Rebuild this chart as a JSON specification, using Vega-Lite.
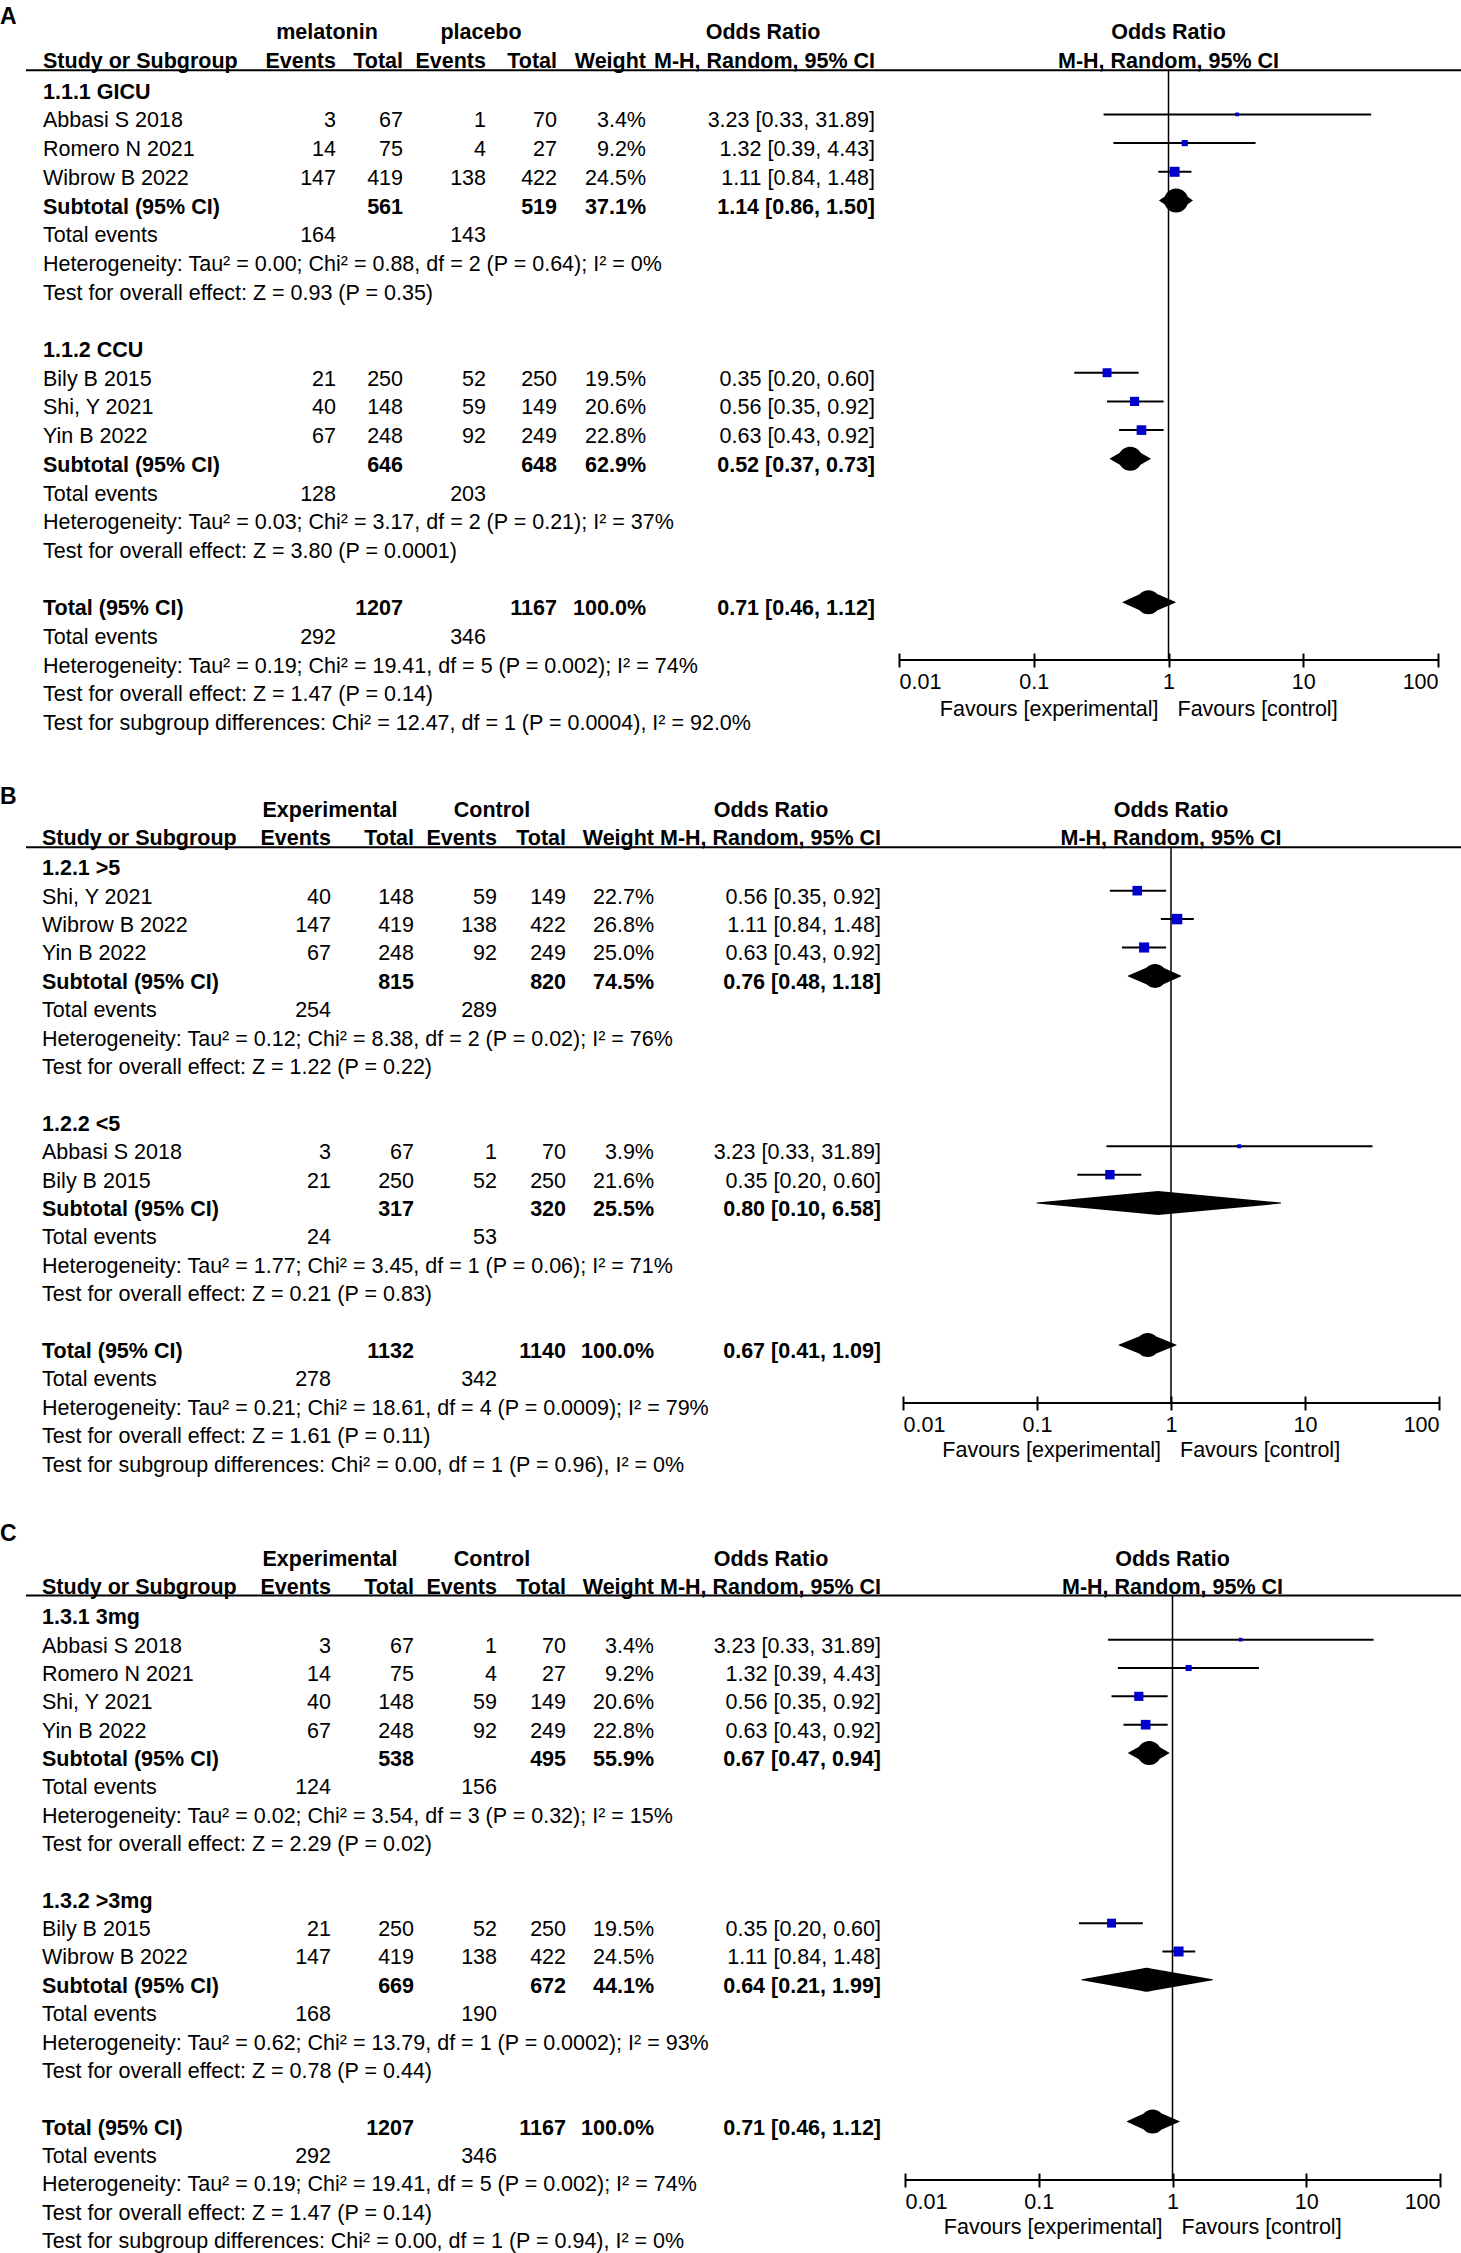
{
  "$schema": "https://vega.github.io/schema/vega-lite/v6.json",
  "background": "white",
  "padding": 0,
  "autosize": {"type": "pad"},
  "config": {"view": {"stroke": null}, "text": {"font": "Liberation Sans", "color": "black"}, "axis": {"labelFont": "Liberation Sans"}},
  "spacing": 100,
  "bounds": "flush",
  "datasets": {
    "txt": [
      {"p":"A","r":-2.65,"c":0,"t":"A","k":"L"},
      {"p":"A","r":-2.07,"c":2,"t":"melatonin","k":"h"},
      {"p":"A","r":-2.07,"c":5,"t":"placebo","k":"h"},
      {"p":"A","r":-2.07,"c":9,"t":"Odds Ratio","k":"h"},
      {"p":"A","r":-1.07,"c":1,"t":"Study or Subgroup","k":"h"},
      {"p":"A","r":-1.07,"c":3,"t":"Events","k":"h"},
      {"p":"A","r":-1.07,"c":4,"t":"Total","k":"h"},
      {"p":"A","r":-1.07,"c":6,"t":"Events","k":"h"},
      {"p":"A","r":-1.07,"c":7,"t":"Total","k":"h"},
      {"p":"A","r":-1.07,"c":8,"t":"Weight","k":"h"},
      {"p":"A","r":-1.07,"c":10,"t":"M-H, Random, 95% CI","k":"h"},
      {"p":"A","r":-2.07,"t":"Odds Ratio","k":"fh"},
      {"p":"A","r":-1.07,"t":"M-H, Random, 95% CI","k":"fh"},
      {"p":"A","r":21.5,"t":"Favours [experimental]","k":"fe"},
      {"p":"A","r":21.5,"t":"Favours [control]","k":"fc"},
      {"p":"A","r":0,"c":1,"t":"1.1.1 GICU","k":"g"},
      {"p":"A","r":1,"c":1,"t":"Abbasi S 2018","k":"s"},{"p":"A","r":1,"c":3,"t":"3","k":"s"},{"p":"A","r":1,"c":4,"t":"67","k":"s"},{"p":"A","r":1,"c":6,"t":"1","k":"s"},{"p":"A","r":1,"c":7,"t":"70","k":"s"},{"p":"A","r":1,"c":8,"t":"3.4%","k":"s"},{"p":"A","r":1,"c":10,"t":"3.23 [0.33, 31.89]","k":"s"},
      {"p":"A","r":2,"c":1,"t":"Romero N 2021","k":"s"},{"p":"A","r":2,"c":3,"t":"14","k":"s"},{"p":"A","r":2,"c":4,"t":"75","k":"s"},{"p":"A","r":2,"c":6,"t":"4","k":"s"},{"p":"A","r":2,"c":7,"t":"27","k":"s"},{"p":"A","r":2,"c":8,"t":"9.2%","k":"s"},{"p":"A","r":2,"c":10,"t":"1.32 [0.39, 4.43]","k":"s"},
      {"p":"A","r":3,"c":1,"t":"Wibrow B 2022","k":"s"},{"p":"A","r":3,"c":3,"t":"147","k":"s"},{"p":"A","r":3,"c":4,"t":"419","k":"s"},{"p":"A","r":3,"c":6,"t":"138","k":"s"},{"p":"A","r":3,"c":7,"t":"422","k":"s"},{"p":"A","r":3,"c":8,"t":"24.5%","k":"s"},{"p":"A","r":3,"c":10,"t":"1.11 [0.84, 1.48]","k":"s"},
      {"p":"A","r":4,"c":1,"t":"Subtotal (95% CI)","k":"sub"},{"p":"A","r":4,"c":4,"t":"561","k":"sub"},{"p":"A","r":4,"c":7,"t":"519","k":"sub"},{"p":"A","r":4,"c":8,"t":"37.1%","k":"sub"},{"p":"A","r":4,"c":10,"t":"1.14 [0.86, 1.50]","k":"sub"},
      {"p":"A","r":5,"c":1,"t":"Total events","k":"i"},{"p":"A","r":5,"c":3,"t":"164","k":"i"},{"p":"A","r":5,"c":6,"t":"143","k":"i"},
      {"p":"A","r":6,"c":1,"t":"Heterogeneity: Tau² = 0.00; Chi² = 0.88, df = 2 (P = 0.64); I² = 0%","k":"i"},
      {"p":"A","r":7,"c":1,"t":"Test for overall effect: Z = 0.93 (P = 0.35)","k":"i"},
      {"p":"A","r":9,"c":1,"t":"1.1.2 CCU","k":"g"},
      {"p":"A","r":10,"c":1,"t":"Bily B 2015","k":"s"},{"p":"A","r":10,"c":3,"t":"21","k":"s"},{"p":"A","r":10,"c":4,"t":"250","k":"s"},{"p":"A","r":10,"c":6,"t":"52","k":"s"},{"p":"A","r":10,"c":7,"t":"250","k":"s"},{"p":"A","r":10,"c":8,"t":"19.5%","k":"s"},{"p":"A","r":10,"c":10,"t":"0.35 [0.20, 0.60]","k":"s"},
      {"p":"A","r":11,"c":1,"t":"Shi, Y 2021","k":"s"},{"p":"A","r":11,"c":3,"t":"40","k":"s"},{"p":"A","r":11,"c":4,"t":"148","k":"s"},{"p":"A","r":11,"c":6,"t":"59","k":"s"},{"p":"A","r":11,"c":7,"t":"149","k":"s"},{"p":"A","r":11,"c":8,"t":"20.6%","k":"s"},{"p":"A","r":11,"c":10,"t":"0.56 [0.35, 0.92]","k":"s"},
      {"p":"A","r":12,"c":1,"t":"Yin B 2022","k":"s"},{"p":"A","r":12,"c":3,"t":"67","k":"s"},{"p":"A","r":12,"c":4,"t":"248","k":"s"},{"p":"A","r":12,"c":6,"t":"92","k":"s"},{"p":"A","r":12,"c":7,"t":"249","k":"s"},{"p":"A","r":12,"c":8,"t":"22.8%","k":"s"},{"p":"A","r":12,"c":10,"t":"0.63 [0.43, 0.92]","k":"s"},
      {"p":"A","r":13,"c":1,"t":"Subtotal (95% CI)","k":"sub"},{"p":"A","r":13,"c":4,"t":"646","k":"sub"},{"p":"A","r":13,"c":7,"t":"648","k":"sub"},{"p":"A","r":13,"c":8,"t":"62.9%","k":"sub"},{"p":"A","r":13,"c":10,"t":"0.52 [0.37, 0.73]","k":"sub"},
      {"p":"A","r":14,"c":1,"t":"Total events","k":"i"},{"p":"A","r":14,"c":3,"t":"128","k":"i"},{"p":"A","r":14,"c":6,"t":"203","k":"i"},
      {"p":"A","r":15,"c":1,"t":"Heterogeneity: Tau² = 0.03; Chi² = 3.17, df = 2 (P = 0.21); I² = 37%","k":"i"},
      {"p":"A","r":16,"c":1,"t":"Test for overall effect: Z = 3.80 (P = 0.0001)","k":"i"},
      {"p":"A","r":18,"c":1,"t":"Total (95% CI)","k":"sub"},{"p":"A","r":18,"c":4,"t":"1207","k":"sub"},{"p":"A","r":18,"c":7,"t":"1167","k":"sub"},{"p":"A","r":18,"c":8,"t":"100.0%","k":"sub"},{"p":"A","r":18,"c":10,"t":"0.71 [0.46, 1.12]","k":"sub"},
      {"p":"A","r":19,"c":1,"t":"Total events","k":"i"},{"p":"A","r":19,"c":3,"t":"292","k":"i"},{"p":"A","r":19,"c":6,"t":"346","k":"i"},
      {"p":"A","r":20,"c":1,"t":"Heterogeneity: Tau² = 0.19; Chi² = 19.41, df = 5 (P = 0.002); I² = 74%","k":"i"},
      {"p":"A","r":21,"c":1,"t":"Test for overall effect: Z = 1.47 (P = 0.14)","k":"i"},
      {"p":"A","r":22,"c":1,"t":"Test for subgroup differences: Chi² = 12.47, df = 1 (P = 0.0004), I² = 92.0%","k":"i"},

      {"p":"B","r":-2.56,"c":0,"t":"B","k":"L"},
      {"p":"B","r":-2.07,"c":2,"t":"Experimental","k":"h"},
      {"p":"B","r":-2.07,"c":5,"t":"Control","k":"h"},
      {"p":"B","r":-2.07,"c":9,"t":"Odds Ratio","k":"h"},
      {"p":"B","r":-1.07,"c":1,"t":"Study or Subgroup","k":"h"},
      {"p":"B","r":-1.07,"c":3,"t":"Events","k":"h"},
      {"p":"B","r":-1.07,"c":4,"t":"Total","k":"h"},
      {"p":"B","r":-1.07,"c":6,"t":"Events","k":"h"},
      {"p":"B","r":-1.07,"c":7,"t":"Total","k":"h"},
      {"p":"B","r":-1.07,"c":8,"t":"Weight","k":"h"},
      {"p":"B","r":-1.07,"c":10,"t":"M-H, Random, 95% CI","k":"h"},
      {"p":"B","r":-2.07,"t":"Odds Ratio","k":"fh"},
      {"p":"B","r":-1.07,"t":"M-H, Random, 95% CI","k":"fh"},
      {"p":"B","r":20.5,"t":"Favours [experimental]","k":"fe"},
      {"p":"B","r":20.5,"t":"Favours [control]","k":"fc"},
      {"p":"B","r":0,"c":1,"t":"1.2.1 >5","k":"g"},
      {"p":"B","r":1,"c":1,"t":"Shi, Y 2021","k":"s"},{"p":"B","r":1,"c":3,"t":"40","k":"s"},{"p":"B","r":1,"c":4,"t":"148","k":"s"},{"p":"B","r":1,"c":6,"t":"59","k":"s"},{"p":"B","r":1,"c":7,"t":"149","k":"s"},{"p":"B","r":1,"c":8,"t":"22.7%","k":"s"},{"p":"B","r":1,"c":10,"t":"0.56 [0.35, 0.92]","k":"s"},
      {"p":"B","r":2,"c":1,"t":"Wibrow B 2022","k":"s"},{"p":"B","r":2,"c":3,"t":"147","k":"s"},{"p":"B","r":2,"c":4,"t":"419","k":"s"},{"p":"B","r":2,"c":6,"t":"138","k":"s"},{"p":"B","r":2,"c":7,"t":"422","k":"s"},{"p":"B","r":2,"c":8,"t":"26.8%","k":"s"},{"p":"B","r":2,"c":10,"t":"1.11 [0.84, 1.48]","k":"s"},
      {"p":"B","r":3,"c":1,"t":"Yin B 2022","k":"s"},{"p":"B","r":3,"c":3,"t":"67","k":"s"},{"p":"B","r":3,"c":4,"t":"248","k":"s"},{"p":"B","r":3,"c":6,"t":"92","k":"s"},{"p":"B","r":3,"c":7,"t":"249","k":"s"},{"p":"B","r":3,"c":8,"t":"25.0%","k":"s"},{"p":"B","r":3,"c":10,"t":"0.63 [0.43, 0.92]","k":"s"},
      {"p":"B","r":4,"c":1,"t":"Subtotal (95% CI)","k":"sub"},{"p":"B","r":4,"c":4,"t":"815","k":"sub"},{"p":"B","r":4,"c":7,"t":"820","k":"sub"},{"p":"B","r":4,"c":8,"t":"74.5%","k":"sub"},{"p":"B","r":4,"c":10,"t":"0.76 [0.48, 1.18]","k":"sub"},
      {"p":"B","r":5,"c":1,"t":"Total events","k":"i"},{"p":"B","r":5,"c":3,"t":"254","k":"i"},{"p":"B","r":5,"c":6,"t":"289","k":"i"},
      {"p":"B","r":6,"c":1,"t":"Heterogeneity: Tau² = 0.12; Chi² = 8.38, df = 2 (P = 0.02); I² = 76%","k":"i"},
      {"p":"B","r":7,"c":1,"t":"Test for overall effect: Z = 1.22 (P = 0.22)","k":"i"},
      {"p":"B","r":9,"c":1,"t":"1.2.2 <5","k":"g"},
      {"p":"B","r":10,"c":1,"t":"Abbasi S 2018","k":"s"},{"p":"B","r":10,"c":3,"t":"3","k":"s"},{"p":"B","r":10,"c":4,"t":"67","k":"s"},{"p":"B","r":10,"c":6,"t":"1","k":"s"},{"p":"B","r":10,"c":7,"t":"70","k":"s"},{"p":"B","r":10,"c":8,"t":"3.9%","k":"s"},{"p":"B","r":10,"c":10,"t":"3.23 [0.33, 31.89]","k":"s"},
      {"p":"B","r":11,"c":1,"t":"Bily B 2015","k":"s"},{"p":"B","r":11,"c":3,"t":"21","k":"s"},{"p":"B","r":11,"c":4,"t":"250","k":"s"},{"p":"B","r":11,"c":6,"t":"52","k":"s"},{"p":"B","r":11,"c":7,"t":"250","k":"s"},{"p":"B","r":11,"c":8,"t":"21.6%","k":"s"},{"p":"B","r":11,"c":10,"t":"0.35 [0.20, 0.60]","k":"s"},
      {"p":"B","r":12,"c":1,"t":"Subtotal (95% CI)","k":"sub"},{"p":"B","r":12,"c":4,"t":"317","k":"sub"},{"p":"B","r":12,"c":7,"t":"320","k":"sub"},{"p":"B","r":12,"c":8,"t":"25.5%","k":"sub"},{"p":"B","r":12,"c":10,"t":"0.80 [0.10, 6.58]","k":"sub"},
      {"p":"B","r":13,"c":1,"t":"Total events","k":"i"},{"p":"B","r":13,"c":3,"t":"24","k":"i"},{"p":"B","r":13,"c":6,"t":"53","k":"i"},
      {"p":"B","r":14,"c":1,"t":"Heterogeneity: Tau² = 1.77; Chi² = 3.45, df = 1 (P = 0.06); I² = 71%","k":"i"},
      {"p":"B","r":15,"c":1,"t":"Test for overall effect: Z = 0.21 (P = 0.83)","k":"i"},
      {"p":"B","r":17,"c":1,"t":"Total (95% CI)","k":"sub"},{"p":"B","r":17,"c":4,"t":"1132","k":"sub"},{"p":"B","r":17,"c":7,"t":"1140","k":"sub"},{"p":"B","r":17,"c":8,"t":"100.0%","k":"sub"},{"p":"B","r":17,"c":10,"t":"0.67 [0.41, 1.09]","k":"sub"},
      {"p":"B","r":18,"c":1,"t":"Total events","k":"i"},{"p":"B","r":18,"c":3,"t":"278","k":"i"},{"p":"B","r":18,"c":6,"t":"342","k":"i"},
      {"p":"B","r":19,"c":1,"t":"Heterogeneity: Tau² = 0.21; Chi² = 18.61, df = 4 (P = 0.0009); I² = 79%","k":"i"},
      {"p":"B","r":20,"c":1,"t":"Test for overall effect: Z = 1.61 (P = 0.11)","k":"i"},
      {"p":"B","r":21,"c":1,"t":"Test for subgroup differences: Chi² = 0.00, df = 1 (P = 0.96), I² = 0%","k":"i"},

      {"p":"C","r":-2.99,"c":0,"t":"C","k":"L"},
      {"p":"C","r":-2.07,"c":2,"t":"Experimental","k":"h"},
      {"p":"C","r":-2.07,"c":5,"t":"Control","k":"h"},
      {"p":"C","r":-2.07,"c":9,"t":"Odds Ratio","k":"h"},
      {"p":"C","r":-1.07,"c":1,"t":"Study or Subgroup","k":"h"},
      {"p":"C","r":-1.07,"c":3,"t":"Events","k":"h"},
      {"p":"C","r":-1.07,"c":4,"t":"Total","k":"h"},
      {"p":"C","r":-1.07,"c":6,"t":"Events","k":"h"},
      {"p":"C","r":-1.07,"c":7,"t":"Total","k":"h"},
      {"p":"C","r":-1.07,"c":8,"t":"Weight","k":"h"},
      {"p":"C","r":-1.07,"c":10,"t":"M-H, Random, 95% CI","k":"h"},
      {"p":"C","r":-2.07,"t":"Odds Ratio","k":"fh"},
      {"p":"C","r":-1.07,"t":"M-H, Random, 95% CI","k":"fh"},
      {"p":"C","r":21.5,"t":"Favours [experimental]","k":"fe"},
      {"p":"C","r":21.5,"t":"Favours [control]","k":"fc"},
      {"p":"C","r":0,"c":1,"t":"1.3.1 3mg","k":"g"},
      {"p":"C","r":1,"c":1,"t":"Abbasi S 2018","k":"s"},{"p":"C","r":1,"c":3,"t":"3","k":"s"},{"p":"C","r":1,"c":4,"t":"67","k":"s"},{"p":"C","r":1,"c":6,"t":"1","k":"s"},{"p":"C","r":1,"c":7,"t":"70","k":"s"},{"p":"C","r":1,"c":8,"t":"3.4%","k":"s"},{"p":"C","r":1,"c":10,"t":"3.23 [0.33, 31.89]","k":"s"},
      {"p":"C","r":2,"c":1,"t":"Romero N 2021","k":"s"},{"p":"C","r":2,"c":3,"t":"14","k":"s"},{"p":"C","r":2,"c":4,"t":"75","k":"s"},{"p":"C","r":2,"c":6,"t":"4","k":"s"},{"p":"C","r":2,"c":7,"t":"27","k":"s"},{"p":"C","r":2,"c":8,"t":"9.2%","k":"s"},{"p":"C","r":2,"c":10,"t":"1.32 [0.39, 4.43]","k":"s"},
      {"p":"C","r":3,"c":1,"t":"Shi, Y 2021","k":"s"},{"p":"C","r":3,"c":3,"t":"40","k":"s"},{"p":"C","r":3,"c":4,"t":"148","k":"s"},{"p":"C","r":3,"c":6,"t":"59","k":"s"},{"p":"C","r":3,"c":7,"t":"149","k":"s"},{"p":"C","r":3,"c":8,"t":"20.6%","k":"s"},{"p":"C","r":3,"c":10,"t":"0.56 [0.35, 0.92]","k":"s"},
      {"p":"C","r":4,"c":1,"t":"Yin B 2022","k":"s"},{"p":"C","r":4,"c":3,"t":"67","k":"s"},{"p":"C","r":4,"c":4,"t":"248","k":"s"},{"p":"C","r":4,"c":6,"t":"92","k":"s"},{"p":"C","r":4,"c":7,"t":"249","k":"s"},{"p":"C","r":4,"c":8,"t":"22.8%","k":"s"},{"p":"C","r":4,"c":10,"t":"0.63 [0.43, 0.92]","k":"s"},
      {"p":"C","r":5,"c":1,"t":"Subtotal (95% CI)","k":"sub"},{"p":"C","r":5,"c":4,"t":"538","k":"sub"},{"p":"C","r":5,"c":7,"t":"495","k":"sub"},{"p":"C","r":5,"c":8,"t":"55.9%","k":"sub"},{"p":"C","r":5,"c":10,"t":"0.67 [0.47, 0.94]","k":"sub"},
      {"p":"C","r":6,"c":1,"t":"Total events","k":"i"},{"p":"C","r":6,"c":3,"t":"124","k":"i"},{"p":"C","r":6,"c":6,"t":"156","k":"i"},
      {"p":"C","r":7,"c":1,"t":"Heterogeneity: Tau² = 0.02; Chi² = 3.54, df = 3 (P = 0.32); I² = 15%","k":"i"},
      {"p":"C","r":8,"c":1,"t":"Test for overall effect: Z = 2.29 (P = 0.02)","k":"i"},
      {"p":"C","r":10,"c":1,"t":"1.3.2 >3mg","k":"g"},
      {"p":"C","r":11,"c":1,"t":"Bily B 2015","k":"s"},{"p":"C","r":11,"c":3,"t":"21","k":"s"},{"p":"C","r":11,"c":4,"t":"250","k":"s"},{"p":"C","r":11,"c":6,"t":"52","k":"s"},{"p":"C","r":11,"c":7,"t":"250","k":"s"},{"p":"C","r":11,"c":8,"t":"19.5%","k":"s"},{"p":"C","r":11,"c":10,"t":"0.35 [0.20, 0.60]","k":"s"},
      {"p":"C","r":12,"c":1,"t":"Wibrow B 2022","k":"s"},{"p":"C","r":12,"c":3,"t":"147","k":"s"},{"p":"C","r":12,"c":4,"t":"419","k":"s"},{"p":"C","r":12,"c":6,"t":"138","k":"s"},{"p":"C","r":12,"c":7,"t":"422","k":"s"},{"p":"C","r":12,"c":8,"t":"24.5%","k":"s"},{"p":"C","r":12,"c":10,"t":"1.11 [0.84, 1.48]","k":"s"},
      {"p":"C","r":13,"c":1,"t":"Subtotal (95% CI)","k":"sub"},{"p":"C","r":13,"c":4,"t":"669","k":"sub"},{"p":"C","r":13,"c":7,"t":"672","k":"sub"},{"p":"C","r":13,"c":8,"t":"44.1%","k":"sub"},{"p":"C","r":13,"c":10,"t":"0.64 [0.21, 1.99]","k":"sub"},
      {"p":"C","r":14,"c":1,"t":"Total events","k":"i"},{"p":"C","r":14,"c":3,"t":"168","k":"i"},{"p":"C","r":14,"c":6,"t":"190","k":"i"},
      {"p":"C","r":15,"c":1,"t":"Heterogeneity: Tau² = 0.62; Chi² = 13.79, df = 1 (P = 0.0002); I² = 93%","k":"i"},
      {"p":"C","r":16,"c":1,"t":"Test for overall effect: Z = 0.78 (P = 0.44)","k":"i"},
      {"p":"C","r":18,"c":1,"t":"Total (95% CI)","k":"sub"},{"p":"C","r":18,"c":4,"t":"1207","k":"sub"},{"p":"C","r":18,"c":7,"t":"1167","k":"sub"},{"p":"C","r":18,"c":8,"t":"100.0%","k":"sub"},{"p":"C","r":18,"c":10,"t":"0.71 [0.46, 1.12]","k":"sub"},
      {"p":"C","r":19,"c":1,"t":"Total events","k":"i"},{"p":"C","r":19,"c":3,"t":"292","k":"i"},{"p":"C","r":19,"c":6,"t":"346","k":"i"},
      {"p":"C","r":20,"c":1,"t":"Heterogeneity: Tau² = 0.19; Chi² = 19.41, df = 5 (P = 0.002); I² = 74%","k":"i"},
      {"p":"C","r":21,"c":1,"t":"Test for overall effect: Z = 1.47 (P = 0.14)","k":"i"},
      {"p":"C","r":22,"c":1,"t":"Test for subgroup differences: Chi² = 0.00, df = 1 (P = 0.94), I² = 0%","k":"i"}
    ],
    "est": [
      {"p":"A","r":1,"or":3.23,"lo":0.33,"hi":31.89,"w":3.4},
      {"p":"A","r":2,"or":1.32,"lo":0.39,"hi":4.43,"w":9.2},
      {"p":"A","r":3,"or":1.11,"lo":0.84,"hi":1.48,"w":24.5},
      {"p":"A","r":10,"or":0.35,"lo":0.20,"hi":0.60,"w":19.5},
      {"p":"A","r":11,"or":0.56,"lo":0.35,"hi":0.92,"w":20.6},
      {"p":"A","r":12,"or":0.63,"lo":0.43,"hi":0.92,"w":22.8},
      {"p":"B","r":1,"or":0.56,"lo":0.35,"hi":0.92,"w":22.7},
      {"p":"B","r":2,"or":1.11,"lo":0.84,"hi":1.48,"w":26.8},
      {"p":"B","r":3,"or":0.63,"lo":0.43,"hi":0.92,"w":25.0},
      {"p":"B","r":10,"or":3.23,"lo":0.33,"hi":31.89,"w":3.9},
      {"p":"B","r":11,"or":0.35,"lo":0.20,"hi":0.60,"w":21.6},
      {"p":"C","r":1,"or":3.23,"lo":0.33,"hi":31.89,"w":3.4},
      {"p":"C","r":2,"or":1.32,"lo":0.39,"hi":4.43,"w":9.2},
      {"p":"C","r":3,"or":0.56,"lo":0.35,"hi":0.92,"w":20.6},
      {"p":"C","r":4,"or":0.63,"lo":0.43,"hi":0.92,"w":22.8},
      {"p":"C","r":11,"or":0.35,"lo":0.20,"hi":0.60,"w":19.5},
      {"p":"C","r":12,"or":1.11,"lo":0.84,"hi":1.48,"w":24.5}
    ],
    "pooled": [
      {"p":"A","r":4,"or":1.14,"lo":0.86,"hi":1.50},
      {"p":"A","r":13,"or":0.52,"lo":0.37,"hi":0.73},
      {"p":"A","r":18,"or":0.71,"lo":0.46,"hi":1.12},
      {"p":"B","r":4,"or":0.76,"lo":0.48,"hi":1.18},
      {"p":"B","r":12,"or":0.80,"lo":0.10,"hi":6.58},
      {"p":"B","r":17,"or":0.67,"lo":0.41,"hi":1.09},
      {"p":"C","r":5,"or":0.67,"lo":0.47,"hi":0.94},
      {"p":"C","r":13,"or":0.64,"lo":0.21,"hi":1.99},
      {"p":"C","r":18,"or":0.71,"lo":0.46,"hi":1.12}
    ]
  },
  "vconcat": [
    {
      "width": 1435, "height": 660,
      "resolve": {"scale": {"x": "independent"}},
      "encoding": {"y": {"field": "r", "type": "quantitative", "scale": {"domain": [-2.986, 20.01], "reverse": true, "nice": false, "zero": false}, "axis": null}},
      "layer": [
        {"data": {"name": "txt"}, "transform": [{"filter": "datum.p == 'A' && datum.k == 'L'"}],
         "mark": {"type": "rule", "color": "black", "strokeWidth": 2},
         "encoding": {"y": {"datum": -0.54, "type": "quantitative", "axis": null}}},
        {
          "data": {"name": "txt"},
          "transform": [{"filter": "datum.p == 'A' && isValid(datum.c)"}],
          "encoding": {
            "x": {"field": "c", "type": "quantitative", "scale": {"domain": [0,1,2,3,4,5,6,7,8,9,10], "range": [-26,17,301,310,377,455,460,531,620,737,849], "nice": false, "zero": false}, "axis": null},
            "text": {"field": "t", "type": "nominal"}
          },
          "layer": [
            {"transform": [{"filter": "datum.c == 1 && (datum.k == 's' || datum.k == 'i')"}], "mark": {"type": "text", "align": "left", "baseline": "middle", "dy": 7, "fontSize": 21.5}},
            {"transform": [{"filter": "datum.c == 1 && (datum.k == 'h' || datum.k == 'g' || datum.k == 'sub')"}], "mark": {"type": "text", "align": "left", "baseline": "middle", "dy": 7, "fontSize": 21.5, "fontWeight": "bold"}},
            {"transform": [{"filter": "(datum.c == 3 || datum.c == 4 || datum.c == 6 || datum.c == 7 || datum.c == 8 || datum.c == 10) && (datum.k == 's' || datum.k == 'i')"}], "mark": {"type": "text", "align": "right", "baseline": "middle", "dy": 7, "fontSize": 21.5}},
            {"transform": [{"filter": "(datum.c == 3 || datum.c == 4 || datum.c == 6 || datum.c == 7 || datum.c == 8 || datum.c == 10) && (datum.k == 'h' || datum.k == 'g' || datum.k == 'sub')"}], "mark": {"type": "text", "align": "right", "baseline": "middle", "dy": 7, "fontSize": 21.5, "fontWeight": "bold"}},
            {"transform": [{"filter": "datum.c == 2 || datum.c == 5 || datum.c == 9"}], "mark": {"type": "text", "align": "center", "baseline": "middle", "dy": 7, "fontSize": 21.5, "fontWeight": "bold"}},
            {"transform": [{"filter": "datum.c == 0"}], "mark": {"type": "text", "align": "left", "baseline": "middle", "dy": 7, "fontSize": 23, "fontWeight": "bold"}}
          ]
        },
        {
          "layer": [
            {"data": {"name": "txt"}, "transform": [{"filter": "datum.p == 'A' && datum.k == 'L'"}],
             "mark": {"type": "rule", "color": "black", "strokeWidth": 1.5},
             "encoding": {"x": {"datum": 1, "type": "quantitative", "scale": {"type": "log", "domain": [0.01, 100], "range": [873, 1412], "nice": false}, "axis": {"orient": "bottom", "values": [0.01, 0.1, 1, 10, 100], "format": "~g", "title": null, "grid": false, "domain": false, "tickSize": 14, "tickWidth": 2, "tickColor": "black", "offset": -7, "labelPadding": 4, "labelFont": "Liberation Sans", "labelFontSize": 21.5, "labelColor": "black", "labelFlush": true, "labelOverlap": false}},
                          "y": {"datum": -0.54, "type": "quantitative", "axis": null}, "y2": {"datum": 20.01}}},
            {"data": {"name": "txt"}, "transform": [{"filter": "datum.p == 'A' && datum.k == 'L'"}],
             "mark": {"type": "rule", "color": "black", "strokeWidth": 2},
             "encoding": {"x": {"datum": 0.01, "type": "quantitative", "scale": {"type": "log", "domain": [0.01, 100], "range": [873, 1412], "nice": false}, "axis": {"orient": "bottom", "values": [0.01, 0.1, 1, 10, 100], "format": "~g", "title": null, "grid": false, "domain": false, "tickSize": 14, "tickWidth": 2, "tickColor": "black", "offset": -7, "labelPadding": 4, "labelFont": "Liberation Sans", "labelFontSize": 21.5, "labelColor": "black", "labelFlush": true, "labelOverlap": false}},
                          "x2": {"datum": 100}, "y": {"datum": 20.01, "type": "quantitative", "axis": null}}},
            {"data": {"name": "est"}, "transform": [{"filter": "datum.p == 'A'"}], "mark": {"type": "rule", "color": "black", "strokeWidth": 2},
             "encoding": {"x": {"field": "lo", "type": "quantitative", "scale": {"type": "log", "domain": [0.01, 100], "range": [873, 1412], "nice": false}, "axis": {"orient": "bottom", "values": [0.01, 0.1, 1, 10, 100], "format": "~g", "title": null, "grid": false, "domain": false, "tickSize": 14, "tickWidth": 2, "tickColor": "black", "offset": -7, "labelPadding": 4, "labelFont": "Liberation Sans", "labelFontSize": 21.5, "labelColor": "black", "labelFlush": true, "labelOverlap": false}}, "x2": {"field": "hi"}}},
            {"data": {"name": "est"}, "transform": [{"filter": "datum.p == 'A'"}], "mark": {"type": "point", "shape": "square", "filled": true, "color": "#0000cc", "opacity": 1, "strokeWidth": 0},
             "encoding": {"x": {"field": "or", "type": "quantitative", "scale": {"type": "log", "domain": [0.01, 100], "range": [873, 1412], "nice": false}, "axis": {"orient": "bottom", "values": [0.01, 0.1, 1, 10, 100], "format": "~g", "title": null, "grid": false, "domain": false, "tickSize": 14, "tickWidth": 2, "tickColor": "black", "offset": -7, "labelPadding": 4, "labelFont": "Liberation Sans", "labelFontSize": 21.5, "labelColor": "black", "labelFlush": true, "labelOverlap": false}},
                          "size": {"field": "w", "type": "quantitative", "scale": {"domain": [0, 100], "range": [0, 408]}, "legend": null}}},
            {"data": {"name": "pooled"}, "transform": [{"filter": "datum.p == 'A'"}, {"fold": ["lo", "or", "hi"], "as": ["key", "v"]}],
             "mark": {"type": "trail", "color": "black", "opacity": 1},
             "encoding": {"x": {"field": "v", "type": "quantitative", "scale": {"type": "log", "domain": [0.01, 100], "range": [873, 1412], "nice": false}, "axis": {"orient": "bottom", "values": [0.01, 0.1, 1, 10, 100], "format": "~g", "title": null, "grid": false, "domain": false, "tickSize": 14, "tickWidth": 2, "tickColor": "black", "offset": -7, "labelPadding": 4, "labelFont": "Liberation Sans", "labelFontSize": 21.5, "labelColor": "black", "labelFlush": true, "labelOverlap": false}},
                          "size": {"field": "key", "type": "nominal", "scale": {"type": "ordinal", "domain": ["lo", "or", "hi"], "range": [0, 24, 0]}, "legend": null},
                          "detail": {"field": "r", "type": "nominal"}, "order": {"field": "v", "type": "quantitative"}}},
            {"data": {"name": "txt"}, "transform": [{"filter": "datum.p == 'A' && datum.k == 'fh'"}],
             "mark": {"type": "text", "align": "center", "baseline": "middle", "dy": 7, "fontSize": 21.5, "fontWeight": "bold"},
             "encoding": {"x": {"datum": 1, "type": "quantitative", "scale": {"type": "log", "domain": [0.01, 100], "range": [873, 1412], "nice": false}, "axis": {"orient": "bottom", "values": [0.01, 0.1, 1, 10, 100], "format": "~g", "title": null, "grid": false, "domain": false, "tickSize": 14, "tickWidth": 2, "tickColor": "black", "offset": -7, "labelPadding": 4, "labelFont": "Liberation Sans", "labelFontSize": 21.5, "labelColor": "black", "labelFlush": true, "labelOverlap": false}}, "text": {"field": "t", "type": "nominal"}}},
            {"data": {"name": "txt"}, "transform": [{"filter": "datum.p == 'A' && datum.k == 'fe'"}],
             "mark": {"type": "text", "align": "right", "baseline": "middle", "dy": 7, "dx": -10, "fontSize": 21.5},
             "encoding": {"x": {"datum": 1, "type": "quantitative", "scale": {"type": "log", "domain": [0.01, 100], "range": [873, 1412], "nice": false}, "axis": {"orient": "bottom", "values": [0.01, 0.1, 1, 10, 100], "format": "~g", "title": null, "grid": false, "domain": false, "tickSize": 14, "tickWidth": 2, "tickColor": "black", "offset": -7, "labelPadding": 4, "labelFont": "Liberation Sans", "labelFontSize": 21.5, "labelColor": "black", "labelFlush": true, "labelOverlap": false}}, "text": {"field": "t", "type": "nominal"}}},
            {"data": {"name": "txt"}, "transform": [{"filter": "datum.p == 'A' && datum.k == 'fc'"}],
             "mark": {"type": "text", "align": "left", "baseline": "middle", "dy": 7, "dx": 9, "fontSize": 21.5},
             "encoding": {"x": {"datum": 1, "type": "quantitative", "scale": {"type": "log", "domain": [0.01, 100], "range": [873, 1412], "nice": false}, "axis": {"orient": "bottom", "values": [0.01, 0.1, 1, 10, 100], "format": "~g", "title": null, "grid": false, "domain": false, "tickSize": 14, "tickWidth": 2, "tickColor": "black", "offset": -7, "labelPadding": 4, "labelFont": "Liberation Sans", "labelFontSize": 21.5, "labelColor": "black", "labelFlush": true, "labelOverlap": false}}, "text": {"field": "t", "type": "nominal"}}}
          ]
        }
      ]
    },
    {
      "width": 1435, "height": 643,
      "resolve": {"scale": {"x": "independent"}},
      "encoding": {"y": {"field": "r", "type": "quantitative", "scale": {"domain": [-3.602, 19.04], "reverse": true, "nice": false, "zero": false}, "axis": null}},
      "layer": [
        {"data": {"name": "txt"}, "transform": [{"filter": "datum.p == 'B' && datum.k == 'L'"}],
         "mark": {"type": "rule", "color": "black", "strokeWidth": 2},
         "encoding": {"y": {"datum": -0.53, "type": "quantitative", "axis": null}}},
        {
          "data": {"name": "txt"},
          "transform": [{"filter": "datum.p == 'B' && isValid(datum.c)"}],
          "encoding": {
            "x": {"field": "c", "type": "quantitative", "scale": {"domain": [0,1,2,3,4,5,6,7,8,9,10], "range": [-26,16,304,305,388,466,471,540,628,745,855], "nice": false, "zero": false}, "axis": null},
            "text": {"field": "t", "type": "nominal"}
          },
          "layer": [
            {"transform": [{"filter": "datum.c == 1 && (datum.k == 's' || datum.k == 'i')"}], "mark": {"type": "text", "align": "left", "baseline": "middle", "dy": 7, "fontSize": 21.5}},
            {"transform": [{"filter": "datum.c == 1 && (datum.k == 'h' || datum.k == 'g' || datum.k == 'sub')"}], "mark": {"type": "text", "align": "left", "baseline": "middle", "dy": 7, "fontSize": 21.5, "fontWeight": "bold"}},
            {"transform": [{"filter": "(datum.c == 3 || datum.c == 4 || datum.c == 6 || datum.c == 7 || datum.c == 8 || datum.c == 10) && (datum.k == 's' || datum.k == 'i')"}], "mark": {"type": "text", "align": "right", "baseline": "middle", "dy": 7, "fontSize": 21.5}},
            {"transform": [{"filter": "(datum.c == 3 || datum.c == 4 || datum.c == 6 || datum.c == 7 || datum.c == 8 || datum.c == 10) && (datum.k == 'h' || datum.k == 'g' || datum.k == 'sub')"}], "mark": {"type": "text", "align": "right", "baseline": "middle", "dy": 7, "fontSize": 21.5, "fontWeight": "bold"}},
            {"transform": [{"filter": "datum.c == 2 || datum.c == 5 || datum.c == 9"}], "mark": {"type": "text", "align": "center", "baseline": "middle", "dy": 7, "fontSize": 21.5, "fontWeight": "bold"}},
            {"transform": [{"filter": "datum.c == 0"}], "mark": {"type": "text", "align": "left", "baseline": "middle", "dy": 7, "fontSize": 23, "fontWeight": "bold"}}
          ]
        },
        {
          "layer": [
            {"data": {"name": "txt"}, "transform": [{"filter": "datum.p == 'B' && datum.k == 'L'"}],
             "mark": {"type": "rule", "color": "black", "strokeWidth": 1.5},
             "encoding": {"x": {"datum": 1, "type": "quantitative", "scale": {"type": "log", "domain": [0.01, 100], "range": [877, 1413], "nice": false}, "axis": {"orient": "bottom", "values": [0.01, 0.1, 1, 10, 100], "format": "~g", "title": null, "grid": false, "domain": false, "tickSize": 14, "tickWidth": 2, "tickColor": "black", "offset": -7, "labelPadding": 4, "labelFont": "Liberation Sans", "labelFontSize": 21.5, "labelColor": "black", "labelFlush": true, "labelOverlap": false}},
                          "y": {"datum": -0.53, "type": "quantitative", "axis": null}, "y2": {"datum": 19.04}}},
            {"data": {"name": "txt"}, "transform": [{"filter": "datum.p == 'B' && datum.k == 'L'"}],
             "mark": {"type": "rule", "color": "black", "strokeWidth": 2},
             "encoding": {"x": {"datum": 0.01, "type": "quantitative", "scale": {"type": "log", "domain": [0.01, 100], "range": [877, 1413], "nice": false}, "axis": {"orient": "bottom", "values": [0.01, 0.1, 1, 10, 100], "format": "~g", "title": null, "grid": false, "domain": false, "tickSize": 14, "tickWidth": 2, "tickColor": "black", "offset": -7, "labelPadding": 4, "labelFont": "Liberation Sans", "labelFontSize": 21.5, "labelColor": "black", "labelFlush": true, "labelOverlap": false}},
                          "x2": {"datum": 100}, "y": {"datum": 19.04, "type": "quantitative", "axis": null}}},
            {"data": {"name": "est"}, "transform": [{"filter": "datum.p == 'B'"}], "mark": {"type": "rule", "color": "black", "strokeWidth": 2},
             "encoding": {"x": {"field": "lo", "type": "quantitative", "scale": {"type": "log", "domain": [0.01, 100], "range": [877, 1413], "nice": false}, "axis": {"orient": "bottom", "values": [0.01, 0.1, 1, 10, 100], "format": "~g", "title": null, "grid": false, "domain": false, "tickSize": 14, "tickWidth": 2, "tickColor": "black", "offset": -7, "labelPadding": 4, "labelFont": "Liberation Sans", "labelFontSize": 21.5, "labelColor": "black", "labelFlush": true, "labelOverlap": false}}, "x2": {"field": "hi"}}},
            {"data": {"name": "est"}, "transform": [{"filter": "datum.p == 'B'"}], "mark": {"type": "point", "shape": "square", "filled": true, "color": "#0000cc", "opacity": 1, "strokeWidth": 0},
             "encoding": {"x": {"field": "or", "type": "quantitative", "scale": {"type": "log", "domain": [0.01, 100], "range": [877, 1413], "nice": false}, "axis": {"orient": "bottom", "values": [0.01, 0.1, 1, 10, 100], "format": "~g", "title": null, "grid": false, "domain": false, "tickSize": 14, "tickWidth": 2, "tickColor": "black", "offset": -7, "labelPadding": 4, "labelFont": "Liberation Sans", "labelFontSize": 21.5, "labelColor": "black", "labelFlush": true, "labelOverlap": false}},
                          "size": {"field": "w", "type": "quantitative", "scale": {"domain": [0, 100], "range": [0, 408]}, "legend": null}}},
            {"data": {"name": "pooled"}, "transform": [{"filter": "datum.p == 'B'"}, {"fold": ["lo", "or", "hi"], "as": ["key", "v"]}],
             "mark": {"type": "trail", "color": "black", "opacity": 1},
             "encoding": {"x": {"field": "v", "type": "quantitative", "scale": {"type": "log", "domain": [0.01, 100], "range": [877, 1413], "nice": false}, "axis": {"orient": "bottom", "values": [0.01, 0.1, 1, 10, 100], "format": "~g", "title": null, "grid": false, "domain": false, "tickSize": 14, "tickWidth": 2, "tickColor": "black", "offset": -7, "labelPadding": 4, "labelFont": "Liberation Sans", "labelFontSize": 21.5, "labelColor": "black", "labelFlush": true, "labelOverlap": false}},
                          "size": {"field": "key", "type": "nominal", "scale": {"type": "ordinal", "domain": ["lo", "or", "hi"], "range": [0, 24, 0]}, "legend": null},
                          "detail": {"field": "r", "type": "nominal"}, "order": {"field": "v", "type": "quantitative"}}},
            {"data": {"name": "txt"}, "transform": [{"filter": "datum.p == 'B' && datum.k == 'fh'"}],
             "mark": {"type": "text", "align": "center", "baseline": "middle", "dy": 7, "fontSize": 21.5, "fontWeight": "bold"},
             "encoding": {"x": {"datum": 1, "type": "quantitative", "scale": {"type": "log", "domain": [0.01, 100], "range": [877, 1413], "nice": false}, "axis": {"orient": "bottom", "values": [0.01, 0.1, 1, 10, 100], "format": "~g", "title": null, "grid": false, "domain": false, "tickSize": 14, "tickWidth": 2, "tickColor": "black", "offset": -7, "labelPadding": 4, "labelFont": "Liberation Sans", "labelFontSize": 21.5, "labelColor": "black", "labelFlush": true, "labelOverlap": false}}, "text": {"field": "t", "type": "nominal"}}},
            {"data": {"name": "txt"}, "transform": [{"filter": "datum.p == 'B' && datum.k == 'fe'"}],
             "mark": {"type": "text", "align": "right", "baseline": "middle", "dy": 7, "dx": -10, "fontSize": 21.5},
             "encoding": {"x": {"datum": 1, "type": "quantitative", "scale": {"type": "log", "domain": [0.01, 100], "range": [877, 1413], "nice": false}, "axis": {"orient": "bottom", "values": [0.01, 0.1, 1, 10, 100], "format": "~g", "title": null, "grid": false, "domain": false, "tickSize": 14, "tickWidth": 2, "tickColor": "black", "offset": -7, "labelPadding": 4, "labelFont": "Liberation Sans", "labelFontSize": 21.5, "labelColor": "black", "labelFlush": true, "labelOverlap": false}}, "text": {"field": "t", "type": "nominal"}}},
            {"data": {"name": "txt"}, "transform": [{"filter": "datum.p == 'B' && datum.k == 'fc'"}],
             "mark": {"type": "text", "align": "left", "baseline": "middle", "dy": 7, "dx": 9, "fontSize": 21.5},
             "encoding": {"x": {"datum": 1, "type": "quantitative", "scale": {"type": "log", "domain": [0.01, 100], "range": [877, 1413], "nice": false}, "axis": {"orient": "bottom", "values": [0.01, 0.1, 1, 10, 100], "format": "~g", "title": null, "grid": false, "domain": false, "tickSize": 14, "tickWidth": 2, "tickColor": "black", "offset": -7, "labelPadding": 4, "labelFont": "Liberation Sans", "labelFontSize": 21.5, "labelColor": "black", "labelFlush": true, "labelOverlap": false}}, "text": {"field": "t", "type": "nominal"}}}
          ]
        }
      ]
    },
    {
      "width": 1435, "height": 677,
      "resolve": {"scale": {"x": "independent"}},
      "encoding": {"y": {"field": "r", "type": "quantitative", "scale": {"domain": [-3.82, 20.06], "reverse": true, "nice": false, "zero": false}, "axis": null}},
      "layer": [
        {"data": {"name": "txt"}, "transform": [{"filter": "datum.p == 'C' && datum.k == 'L'"}],
         "mark": {"type": "rule", "color": "black", "strokeWidth": 2},
         "encoding": {"y": {"datum": -0.56, "type": "quantitative", "axis": null}}},
        {
          "data": {"name": "txt"},
          "transform": [{"filter": "datum.p == 'C' && isValid(datum.c)"}],
          "encoding": {
            "x": {"field": "c", "type": "quantitative", "scale": {"domain": [0,1,2,3,4,5,6,7,8,9,10], "range": [-26,16,304,305,388,466,471,540,628,745,855], "nice": false, "zero": false}, "axis": null},
            "text": {"field": "t", "type": "nominal"}
          },
          "layer": [
            {"transform": [{"filter": "datum.c == 1 && (datum.k == 's' || datum.k == 'i')"}], "mark": {"type": "text", "align": "left", "baseline": "middle", "dy": 7, "fontSize": 21.5}},
            {"transform": [{"filter": "datum.c == 1 && (datum.k == 'h' || datum.k == 'g' || datum.k == 'sub')"}], "mark": {"type": "text", "align": "left", "baseline": "middle", "dy": 7, "fontSize": 21.5, "fontWeight": "bold"}},
            {"transform": [{"filter": "(datum.c == 3 || datum.c == 4 || datum.c == 6 || datum.c == 7 || datum.c == 8 || datum.c == 10) && (datum.k == 's' || datum.k == 'i')"}], "mark": {"type": "text", "align": "right", "baseline": "middle", "dy": 7, "fontSize": 21.5}},
            {"transform": [{"filter": "(datum.c == 3 || datum.c == 4 || datum.c == 6 || datum.c == 7 || datum.c == 8 || datum.c == 10) && (datum.k == 'h' || datum.k == 'g' || datum.k == 'sub')"}], "mark": {"type": "text", "align": "right", "baseline": "middle", "dy": 7, "fontSize": 21.5, "fontWeight": "bold"}},
            {"transform": [{"filter": "datum.c == 2 || datum.c == 5 || datum.c == 9"}], "mark": {"type": "text", "align": "center", "baseline": "middle", "dy": 7, "fontSize": 21.5, "fontWeight": "bold"}},
            {"transform": [{"filter": "datum.c == 0"}], "mark": {"type": "text", "align": "left", "baseline": "middle", "dy": 7, "fontSize": 23, "fontWeight": "bold"}}
          ]
        },
        {
          "layer": [
            {"data": {"name": "txt"}, "transform": [{"filter": "datum.p == 'C' && datum.k == 'L'"}],
             "mark": {"type": "rule", "color": "black", "strokeWidth": 1.5},
             "encoding": {"x": {"datum": 1, "type": "quantitative", "scale": {"type": "log", "domain": [0.01, 100], "range": [879, 1414], "nice": false}, "axis": {"orient": "bottom", "values": [0.01, 0.1, 1, 10, 100], "format": "~g", "title": null, "grid": false, "domain": false, "tickSize": 14, "tickWidth": 2, "tickColor": "black", "offset": -7, "labelPadding": 4, "labelFont": "Liberation Sans", "labelFontSize": 21.5, "labelColor": "black", "labelFlush": true, "labelOverlap": false}},
                          "y": {"datum": -0.56, "type": "quantitative", "axis": null}, "y2": {"datum": 20.06}}},
            {"data": {"name": "txt"}, "transform": [{"filter": "datum.p == 'C' && datum.k == 'L'"}],
             "mark": {"type": "rule", "color": "black", "strokeWidth": 2},
             "encoding": {"x": {"datum": 0.01, "type": "quantitative", "scale": {"type": "log", "domain": [0.01, 100], "range": [879, 1414], "nice": false}, "axis": {"orient": "bottom", "values": [0.01, 0.1, 1, 10, 100], "format": "~g", "title": null, "grid": false, "domain": false, "tickSize": 14, "tickWidth": 2, "tickColor": "black", "offset": -7, "labelPadding": 4, "labelFont": "Liberation Sans", "labelFontSize": 21.5, "labelColor": "black", "labelFlush": true, "labelOverlap": false}},
                          "x2": {"datum": 100}, "y": {"datum": 20.06, "type": "quantitative", "axis": null}}},
            {"data": {"name": "est"}, "transform": [{"filter": "datum.p == 'C'"}], "mark": {"type": "rule", "color": "black", "strokeWidth": 2},
             "encoding": {"x": {"field": "lo", "type": "quantitative", "scale": {"type": "log", "domain": [0.01, 100], "range": [879, 1414], "nice": false}, "axis": {"orient": "bottom", "values": [0.01, 0.1, 1, 10, 100], "format": "~g", "title": null, "grid": false, "domain": false, "tickSize": 14, "tickWidth": 2, "tickColor": "black", "offset": -7, "labelPadding": 4, "labelFont": "Liberation Sans", "labelFontSize": 21.5, "labelColor": "black", "labelFlush": true, "labelOverlap": false}}, "x2": {"field": "hi"}}},
            {"data": {"name": "est"}, "transform": [{"filter": "datum.p == 'C'"}], "mark": {"type": "point", "shape": "square", "filled": true, "color": "#0000cc", "opacity": 1, "strokeWidth": 0},
             "encoding": {"x": {"field": "or", "type": "quantitative", "scale": {"type": "log", "domain": [0.01, 100], "range": [879, 1414], "nice": false}, "axis": {"orient": "bottom", "values": [0.01, 0.1, 1, 10, 100], "format": "~g", "title": null, "grid": false, "domain": false, "tickSize": 14, "tickWidth": 2, "tickColor": "black", "offset": -7, "labelPadding": 4, "labelFont": "Liberation Sans", "labelFontSize": 21.5, "labelColor": "black", "labelFlush": true, "labelOverlap": false}},
                          "size": {"field": "w", "type": "quantitative", "scale": {"domain": [0, 100], "range": [0, 408]}, "legend": null}}},
            {"data": {"name": "pooled"}, "transform": [{"filter": "datum.p == 'C'"}, {"fold": ["lo", "or", "hi"], "as": ["key", "v"]}],
             "mark": {"type": "trail", "color": "black", "opacity": 1},
             "encoding": {"x": {"field": "v", "type": "quantitative", "scale": {"type": "log", "domain": [0.01, 100], "range": [879, 1414], "nice": false}, "axis": {"orient": "bottom", "values": [0.01, 0.1, 1, 10, 100], "format": "~g", "title": null, "grid": false, "domain": false, "tickSize": 14, "tickWidth": 2, "tickColor": "black", "offset": -7, "labelPadding": 4, "labelFont": "Liberation Sans", "labelFontSize": 21.5, "labelColor": "black", "labelFlush": true, "labelOverlap": false}},
                          "size": {"field": "key", "type": "nominal", "scale": {"type": "ordinal", "domain": ["lo", "or", "hi"], "range": [0, 24, 0]}, "legend": null},
                          "detail": {"field": "r", "type": "nominal"}, "order": {"field": "v", "type": "quantitative"}}},
            {"data": {"name": "txt"}, "transform": [{"filter": "datum.p == 'C' && datum.k == 'fh'"}],
             "mark": {"type": "text", "align": "center", "baseline": "middle", "dy": 7, "fontSize": 21.5, "fontWeight": "bold"},
             "encoding": {"x": {"datum": 1, "type": "quantitative", "scale": {"type": "log", "domain": [0.01, 100], "range": [879, 1414], "nice": false}, "axis": {"orient": "bottom", "values": [0.01, 0.1, 1, 10, 100], "format": "~g", "title": null, "grid": false, "domain": false, "tickSize": 14, "tickWidth": 2, "tickColor": "black", "offset": -7, "labelPadding": 4, "labelFont": "Liberation Sans", "labelFontSize": 21.5, "labelColor": "black", "labelFlush": true, "labelOverlap": false}}, "text": {"field": "t", "type": "nominal"}}},
            {"data": {"name": "txt"}, "transform": [{"filter": "datum.p == 'C' && datum.k == 'fe'"}],
             "mark": {"type": "text", "align": "right", "baseline": "middle", "dy": 7, "dx": -10, "fontSize": 21.5},
             "encoding": {"x": {"datum": 1, "type": "quantitative", "scale": {"type": "log", "domain": [0.01, 100], "range": [879, 1414], "nice": false}, "axis": {"orient": "bottom", "values": [0.01, 0.1, 1, 10, 100], "format": "~g", "title": null, "grid": false, "domain": false, "tickSize": 14, "tickWidth": 2, "tickColor": "black", "offset": -7, "labelPadding": 4, "labelFont": "Liberation Sans", "labelFontSize": 21.5, "labelColor": "black", "labelFlush": true, "labelOverlap": false}}, "text": {"field": "t", "type": "nominal"}}},
            {"data": {"name": "txt"}, "transform": [{"filter": "datum.p == 'C' && datum.k == 'fc'"}],
             "mark": {"type": "text", "align": "left", "baseline": "middle", "dy": 7, "dx": 9, "fontSize": 21.5},
             "encoding": {"x": {"datum": 1, "type": "quantitative", "scale": {"type": "log", "domain": [0.01, 100], "range": [879, 1414], "nice": false}, "axis": {"orient": "bottom", "values": [0.01, 0.1, 1, 10, 100], "format": "~g", "title": null, "grid": false, "domain": false, "tickSize": 14, "tickWidth": 2, "tickColor": "black", "offset": -7, "labelPadding": 4, "labelFont": "Liberation Sans", "labelFontSize": 21.5, "labelColor": "black", "labelFlush": true, "labelOverlap": false}}, "text": {"field": "t", "type": "nominal"}}}
          ]
        }
      ]
    }
  ]
}
